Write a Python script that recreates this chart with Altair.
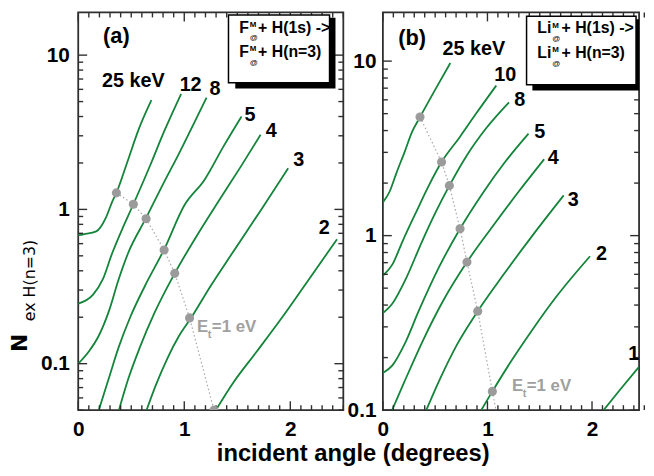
import altair as alt
import pandas as pd

FONT = "Liberation Sans"
GREEN = "#13843a"
DOT = "#9b9b9b"
FRAME = "#2f2f2f"

# ---------------- panel (a): F + H(1s) -> F + H(n=3) ----------------
a25_x = [0, 0.05, 0.17, 0.26, 0.32, 0.36, 0.46, 0.57, 0.69]
a25_y = [0.68, 0.69, 0.72, 0.88, 1.12, 1.28, 2.0, 3.3, 5.1]
a12_x = [0, 0.14, 0.23, 0.32, 0.42, 0.52, 0.68, 0.81, 0.97]
a12_y = [0.245, 0.28, 0.35, 0.52, 0.76, 1.08, 1.94, 3.2, 5.6]
a8_x = [0, 0.10, 0.19, 0.29, 0.38, 0.47, 0.64, 0.80, 0.95, 1.09, 1.21]
a8_y = [0.10, 0.12, 0.15, 0.22, 0.35, 0.52, 0.88, 1.46, 2.3, 3.6, 5.3]
a5_x = [0.19, 0.29, 0.38, 0.49, 0.63, 0.81, 1.0, 1.19, 1.37, 1.54]
a5_y = [0.049, 0.081, 0.127, 0.20, 0.32, 0.55, 1.06, 1.55, 2.56, 4.0]
a4_x = [0.38, 0.47, 0.58, 0.72, 0.91, 1.11, 1.32, 1.53, 1.72]
a4_y = [0.049, 0.079, 0.127, 0.214, 0.385, 0.66, 1.12, 1.88, 3.05]
a3_x = [0.64, 0.73, 0.84, 0.95, 1.06, 1.25, 1.46, 1.71, 1.98]
a3_y = [0.049, 0.072, 0.108, 0.151, 0.196, 0.32, 0.53, 0.96, 1.85]
a2_x = [1.29, 1.46, 1.68, 1.91, 2.16, 2.44]
a2_y = [0.049, 0.075, 0.119, 0.194, 0.34, 0.64]
a_names = ["25 keV", "12", "8", "5", "4", "3", "2"]

adot_x = [0.36, 0.52, 0.64, 0.81, 0.91, 1.05, 1.28]
adot_y = [1.28, 1.08, 0.87, 0.546, 0.385, 0.198, 0.05]

alab_x = [0.52, 1.06, 1.29, 1.62, 1.82, 2.08, 2.32]
alab_y = [6.8, 6.4, 6.0, 4.1, 3.2, 2.1, 0.76]
alab_t = ["25 keV", "12", "8", "5", "4", "3", "2"]

a_tag = ["(a)"]
a_tag_x = [0.36]
a_tag_y = [13.2]
a_et_x = [1.12]
a_et_y = [0.172]
a_box_x = [1.417, 2.370]
a_box_y = [18.2, 6.63]
a_sh_x = [1.481, 2.426]
a_sh_y = [17.46, 6.07]
a_leg_x = [1.519, 1.519]
a_leg_y = [14.0, 9.71]
a_leg_base = ["F", "F"]
a_leg_rest = ["+ H(1s) ->", "+ H(n=3)"]

# ---------------- panel (b): Li + H(1s) -> Li + H(n=3) ----------------
b25_x = [0, 0.065, 0.13, 0.21, 0.28, 0.355, 0.495, 0.645]
b25_y = [1.55, 1.79, 2.29, 3.04, 3.94, 4.78, 6.78, 9.75]
b10_x = [0, 0.093, 0.187, 0.318, 0.439, 0.561, 0.738, 0.888, 1.084]
b10_y = [0.589, 0.687, 0.925, 1.364, 1.934, 2.64, 3.69, 4.97, 7.24]
b8_x = [0, 0.093, 0.224, 0.374, 0.505, 0.636, 0.804, 0.991, 1.206]
b8_y = [0.360, 0.410, 0.573, 0.925, 1.364, 1.934, 2.89, 4.15, 5.81]
b5_x = [0, 0.093, 0.206, 0.346, 0.533, 0.738, 0.953, 1.168, 1.393]
b5_y = [0.163, 0.181, 0.238, 0.374, 0.653, 1.095, 1.745, 2.64, 3.84]
b4_x = [0.084, 0.206, 0.374, 0.579, 0.804, 1.047, 1.299, 1.542]
b4_y = [0.0987, 0.1455, 0.244, 0.426, 0.705, 1.124, 1.79, 2.74]
b3_x = [0.411, 0.542, 0.710, 0.907, 1.159, 1.430, 1.729]
b3_y = [0.0987, 0.149, 0.238, 0.369, 0.604, 1.0, 1.70]
b2_x = [0.935, 1.047, 1.215, 1.430, 1.654, 1.981]
b2_y = [0.0987, 0.128, 0.186, 0.289, 0.443, 0.762]
b1_x = [2.103, 2.262, 2.449]
b1_y = [0.0987, 0.1295, 0.177]
b_names = ["25 keV", "10", "8", "5", "4", "3", "2", "1"]

bdot_x = [0.355, 0.561, 0.636, 0.738, 0.804, 0.907, 1.047]
bdot_y = [4.78, 2.64, 1.934, 1.095, 0.705, 0.369, 0.128]
bline_x = bdot_x + [1.084]
bline_y = bdot_y + [0.098]

blab_x = [0.87, 1.17, 1.31, 1.50, 1.63, 1.82, 2.09, 2.40]
blab_y = [11.8, 8.3, 6.0, 3.9, 2.8, 1.6, 0.78, 0.21]
blab_t = ["25 keV", "10", "8", "5", "4", "3", "2", "1"]

b_tag = ["(b)"]
b_tag_x = [0.28]
b_tag_y = [13.6]
b_et_x = [1.234]
b_et_y = [0.137]
b_box_x = [1.374, 2.421]
b_box_y = [18.1, 7.33]
b_sh_x = [1.430, 2.477]
b_sh_y = [17.4, 6.78]
b_leg_x = [1.477, 1.477]
b_leg_y = [14.4, 10.4]
b_leg_base = ["Li", "Li"]
b_leg_rest = ["+ H(1s) ->", "+ H(n=3)"]

# ---------------- axes ----------------
a_x_domain = [0, 2.5]
b_x_domain = [0, 2.45]
a_y_domain = [0.05, 18.9]
b_y_domain = [0.1, 19.0]
x_major = [0, 1, 2]
x_minor = [i / 10 for i in range(26) if i % 10]
y_major = [0.1, 1, 10]
a_y_minor = [0.05, 0.06, 0.07, 0.08, 0.09, 0.2, 0.3, 0.4, 0.5, 0.6, 0.7, 0.8, 0.9,
             2, 3, 4, 5, 6, 7, 8, 9]
b_y_minor = [0.2, 0.3, 0.4, 0.5, 0.6, 0.7, 0.8, 0.9, 2, 3, 4, 5, 6, 7, 8, 9]

MAJ, MIN = 9, 5


def make_panel(W, H, xdom, ydom, names, xs, ys, dot_x, dot_y, line_x, line_y,
               lx, ly, lt, tag, tag_x, tag_y, et_x, et_y, box_x, box_y, sh_x, sh_y,
               leg_x, leg_y, leg_base, leg_rest, sup_dx, rest_dx, y_minor, ylabpad,
               extra=()):
    xsc = alt.Scale(domain=xdom, nice=False, zero=False)
    ysc = alt.Scale(type="log", domain=ydom, nice=False)

    def X(f="x", axis=None):
        return alt.X(f"{f}:Q", scale=xsc, axis=axis)

    def Y(f="y", axis=None):
        return alt.Y(f"{f}:Q", scale=ysc, axis=axis)

    cdf = pd.DataFrame([{"curve": n, "i": i, "x": a, "y": b}
                        for n, xx, yy in zip(names, xs, ys)
                        for i, (a, b) in enumerate(zip(xx, yy))])
    curves = alt.Chart(cdf).mark_line(color=GREEN, strokeWidth=1.8,
                                      interpolate="monotone", clip=True).encode(
        x=X(axis=alt.Axis(orient="bottom", values=x_major, format="d", ticks=False,
                          tickSize=0, domain=False, grid=False, labelPadding=9,
                          title=None, labelFlush=False, labelOverlap=False)),
        y=Y(axis=alt.Axis(orient="left", values=y_major, format="~g", ticks=False,
                          tickSize=0, domain=False, grid=False, labelPadding=ylabpad,
                          title=None, labelFlush=False, labelOverlap=False)),
        detail="curve:N", order="i:Q")

    layers = [curves]

    # inward ticks on all four sides
    def tick_rules(values, length, horizontal):
        df = pd.DataFrame({"v": values})
        base = alt.Chart(df).mark_rule(color=FRAME, strokeWidth=1.4)
        if horizontal:   # ticks along the x axis (bottom and top)
            return [base.encode(x=X("v"), y=alt.value(H), y2=alt.value(H - length)),
                    base.encode(x=X("v"), y=alt.value(0), y2=alt.value(length))]
        return [base.encode(y=Y("v"), x=alt.value(0), x2=alt.value(length)),
                base.encode(y=Y("v"), x=alt.value(W), x2=alt.value(W - length))]

    layers += tick_rules(x_major, MAJ, True)
    layers += tick_rules(x_minor, MIN, True)
    layers += tick_rules(y_major, MAJ, False)
    layers += tick_rules(y_minor, MIN, False)

    ldf = pd.DataFrame({"x": line_x, "y": line_y, "i": list(range(len(line_x)))})
    layers.append(alt.Chart(ldf).mark_line(color="#a8a8a8", strokeWidth=1.2,
                                           strokeDash=[1.5, 2.5], clip=True)
                  .encode(x=X(), y=Y(), order="i:Q"))
    ddf = pd.DataFrame({"x": dot_x, "y": dot_y})
    layers.append(alt.Chart(ddf).mark_circle(color=DOT, size=85, opacity=1, clip=True)
                  .encode(x=X(), y=Y()))

    tdf = pd.DataFrame({"x": lx, "y": ly, "t": lt})
    layers.append(alt.Chart(tdf).mark_text(font=FONT, fontSize=20, fontWeight="bold",
                                           color="black")
                  .encode(x=X(), y=Y(), text="t:N"))
    gdf = pd.DataFrame({"x": tag_x, "y": tag_y, "t": tag})
    layers.append(alt.Chart(gdf).mark_text(font=FONT, fontSize=22, fontWeight="bold",
                                           color="black")
                  .encode(x=X(), y=Y(), text="t:N"))

    edf = pd.DataFrame({"x": et_x, "y": et_y})
    for txt, dx, dy, fs in [("E", 0, 0, 17), ("t", 11, 8, 11), ("=1 eV", 15, 0, 17)]:
        layers.append(alt.Chart(edf).mark_text(text=txt, font=FONT, fontSize=fs,
                                               fontWeight="bold", color="#a0a0a0",
                                               align="left", baseline="middle",
                                               dx=dx, dy=dy)
                      .encode(x=X(), y=Y()))

    sdf = pd.DataFrame({"x1": [sh_x[0]], "x2": [sh_x[1]], "y1": [sh_y[0]], "y2": [sh_y[1]]})
    layers.append(alt.Chart(sdf).mark_rect(color="black", clip=True)
                  .encode(x=X("x1"), x2="x2:Q", y=Y("y1"), y2="y2:Q"))
    bdf = pd.DataFrame({"x1": [box_x[0]], "x2": [box_x[1]], "y1": [box_y[0]], "y2": [box_y[1]]})
    layers.append(alt.Chart(bdf).mark_rect(fill="white", stroke="black", strokeWidth=1.5)
                  .encode(x=X("x1"), x2="x2:Q", y=Y("y1"), y2="y2:Q"))

    lgdf = pd.DataFrame({"x": leg_x, "y": leg_y, "base": leg_base, "rest": leg_rest})
    common = dict(font=FONT, fontWeight="bold", color="black", align="left",
                  baseline="alphabetic")
    layers.append(alt.Chart(lgdf).mark_text(fontSize=16, **common)
                  .encode(x=X(), y=Y(), text="base:N"))
    layers.append(alt.Chart(lgdf).mark_text(text="M", fontSize=8, dx=sup_dx, dy=-6, **common)
                  .encode(x=X(), y=Y()))
    layers.append(alt.Chart(lgdf).mark_text(text="@", fontSize=8, dx=sup_dx, dy=8,
                                            font=FONT, color="black", align="left",
                                            baseline="alphabetic")
                  .encode(x=X(), y=Y()))
    layers.append(alt.Chart(lgdf).mark_text(fontSize=16, dx=rest_dx, **common)
                  .encode(x=X(), y=Y(), text="rest:N"))

    layers.extend(extra)
    return alt.layer(*layers).resolve_axis(x="independent", y="independent") \
        .properties(width=W, height=H)


one_row = pd.DataFrame({"v": [0]})
H = 402
titles = [
    alt.Chart(one_row).mark_text(text="N", font="DejaVu Sans", fontSize=22,
                                 fontWeight="bold", angle=270, align="center",
                                 baseline="alphabetic", color="black")
    .encode(x=alt.value(-52), y=alt.value(334)),
    alt.Chart(one_row).mark_text(text="ex H(n=3)", font="DejaVu Sans", fontSize=16,
                                 angle=270, align="center", baseline="alphabetic",
                                 color="black")
    .encode(x=alt.value(-44), y=alt.value(271)),
    alt.Chart(one_row).mark_text(text="incident angle (degrees)", font=FONT, fontSize=24,
                                 fontWeight="bold", align="center",
                                 baseline="alphabetic", color="black")
    .encode(x=alt.value(278), y=alt.value(453)),
]

pa = make_panel(268, H, a_x_domain, a_y_domain, a_names,
                [a25_x, a12_x, a8_x, a5_x, a4_x, a3_x, a2_x],
                [a25_y, a12_y, a8_y, a5_y, a4_y, a3_y, a2_y],
                adot_x, adot_y, adot_x, adot_y, alab_x, alab_y, alab_t,
                a_tag, a_tag_x, a_tag_y, a_et_x, a_et_y, a_box_x, a_box_y, a_sh_x, a_sh_y,
                a_leg_x, a_leg_y, a_leg_base, a_leg_rest, 10.5, 19, a_y_minor, 9,
                extra=titles)

pb = make_panel(259, H, b_x_domain, b_y_domain, b_names,
                [b25_x, b10_x, b8_x, b5_x, b4_x, b3_x, b2_x, b1_x],
                [b25_y, b10_y, b8_y, b5_y, b4_y, b3_y, b2_y, b1_y],
                bdot_x, bdot_y, bline_x, bline_y, blab_x, blab_y, blab_t,
                b_tag, b_tag_x, b_tag_y, b_et_x, b_et_y, b_box_x, b_box_y, b_sh_x, b_sh_y,
                b_leg_x, b_leg_y, b_leg_base, b_leg_rest, 15, 24.5, b_y_minor, 7)

chart = alt.hconcat(pa, pb, spacing=40, bounds="flush").properties(
    padding={"left": 0, "top": 0, "right": 0, "bottom": 0}
).configure_view(stroke=FRAME, strokeWidth=1.8).configure_axis(
    labelFont=FONT, labelFontSize=21, labelFontWeight="bold", labelColor="black"
)

chart.save("out.html", embed_options={"renderer": "svg", "actions": False})
